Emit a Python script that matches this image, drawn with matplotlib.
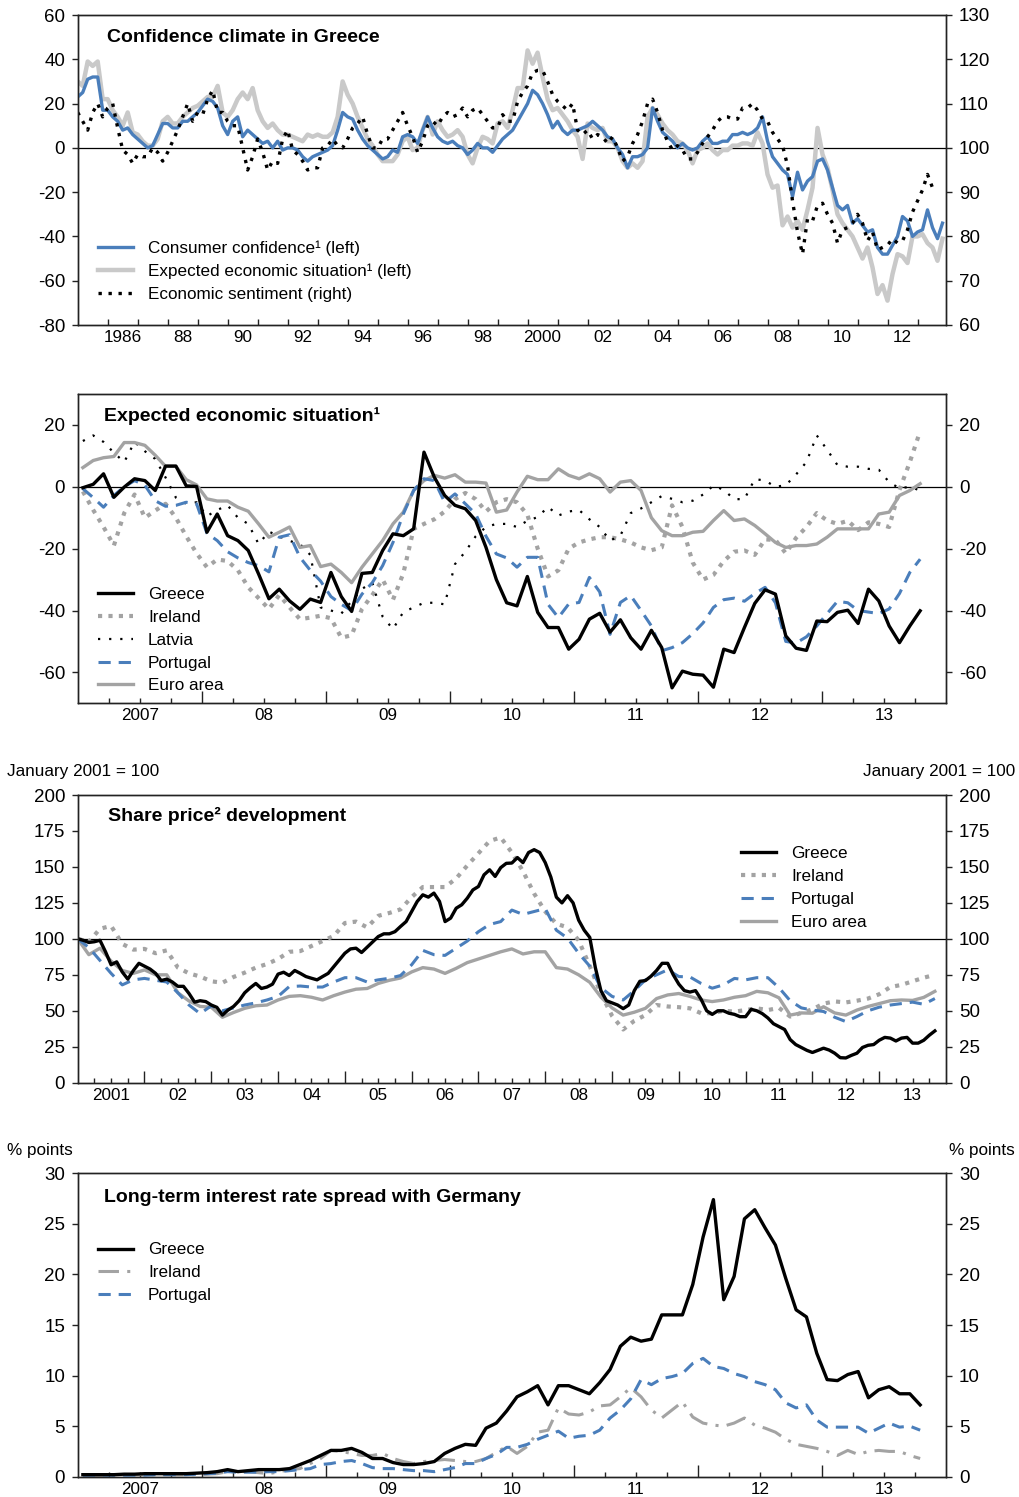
import numpy as np
import matplotlib
matplotlib.use("Agg")
import matplotlib.pyplot as plt
import matplotlib.transforms as mtransforms

plt.rcParams['font.family'] = ['Liberation Sans', 'DejaVu Sans']
plt.rcParams['axes.unicode_minus'] = False

# ---------------- Panel 1 : Confidence climate in Greece (bi-monthly from Jan 1985)
p1_consumer_conf = [
    23, 25, 31, 32, 32, 17,
    17, 14, 12, 8, 9, 6,
    4, 2, 0, 1, 6, 11,
    11, 9, 9, 12, 12, 14,
    16, 19, 22, 21, 18, 10,
    6, 12, 14, 5, 8, 6,
    4, 2, 3, 0, 3, -1,
    0, 0, -1, -4, -6, -4,
    -3, -2, -1, 1, 8, 16,
    14, 13, 8, 4, 1, -1,
    -3, -5, -4, -1, -2, 5,
    6, 5, 2, 8, 14, 9,
    5, 3, 2, 3, 1, 0,
    -3, -1, 2, 0, 0, -2,
    1, 4, 6, 8, 12, 16,
    20, 26, 24, 20, 15, 9,
    12, 8, 6, 8, 8, 9,
    10, 12, 10, 8, 5, 4,
    0, -3, -9, -4, -4, -3,
    0, 18, 12, 7, 5, 3,
    0, 2, 0, -1, 0, 3,
    5, 2, 2, 3, 3, 6,
    6, 7, 6, 7, 9, 14,
    3, -4, -7, -10, -12, -22,
    -11, -19, -15, -13, -6, -5,
    -10, -18, -26, -28, -26, -34,
    -32, -35, -38, -37, -45, -48,
    -48, -44, -40, -31, -33, -40,
    -38, -37, -28, -36, -41, -34]
p1_expected = [
    30, 28, 39, 37, 39, 22,
    22, 17, 14, 10, 16, 7,
    6, 3, 1, 1, 4, 12,
    14, 11, 11, 14, 16, 18,
    19, 21, 23, 23, 28, 16,
    14, 17, 22, 25, 22, 27,
    17, 12, 9, 11, 8, 6,
    6, 5, 4, 3, 6, 5,
    6, 5, 5, 7, 14, 30,
    24, 20, 14, 9, 4, 1,
    -3, -6, -6, -6, -3, 3,
    5, -1, 0, 8, 14, 6,
    12, 8, 5, 6, 8, 5,
    -3, -7, 0, 5, 4, 2,
    11, 12, 9, 17, 27, 27,
    44, 38, 43, 32, 22, 17,
    18, 15, 12, 8, 5, -5,
    11, 9, 8, 9, 3, 3,
    0, -6, -9, -7, -9, -6,
    14, 18, 15, 11, 8, 6,
    3, 2, -1, -7, -1, 0,
    2, -1, -3, -1, -1, 1,
    1, 2, 2, 1, 7, 2,
    -12, -18, -17, -35, -31, -36,
    -33, -37, -28, -18, 9, -3,
    -9, -19, -30, -34, -37, -40,
    -45, -50, -45, -54, -66, -62,
    -69, -57, -48, -49, -52, -40,
    -40, -39, -43, -45, -51, -41]
p1_sentiment = [
    108, 106, 104, 108, 110, 107,
    109, 110, 104.5, 99.5, 98.5, 96.5,
    98.5, 98, 98, 100, 99, 97,
    99, 101.5, 104, 107, 110, 106,
    108, 107.5, 111, 113, 108, 108,
    106, 105, 105, 100, 95, 98,
    102, 99, 95, 97, 96.5, 102,
    104, 99.5, 98.5, 97, 95, 95.5,
    95.5, 100, 100.5, 102, 100.5, 100,
    102, 104.5, 105.5, 107, 103, 100,
    100, 102, 102, 104, 106, 108,
    105, 102.5, 99, 101.5, 105, 106,
    105, 107, 108, 107, 107.5, 109,
    107, 108.5, 109, 107.5, 106, 104.5,
    104.5, 107.5, 106, 106, 110.5, 112.5,
    114, 117, 117.5, 117.5, 115, 112,
    110.5, 109.5, 108.5, 110, 104, 103,
    104, 102, 103, 102.5, 101, 102.5,
    100, 97, 98, 101, 103, 106,
    110, 111, 108, 104, 101.5, 99.5,
    100.5, 99.5, 97.5, 97.5, 99, 101,
    102.5, 104, 106, 107, 107, 106.5,
    106.5, 109, 109, 110, 108.5, 106.5,
    106, 103.5, 102, 100.5, 96, 88,
    81, 76, 84, 83.5, 87, 87.5,
    85, 83, 78.5, 81.5, 82, 83,
    85, 83, 79, 81, 77, 77.5,
    78, 79.5, 78.5, 79, 81.5, 85.5,
    88, 90.5, 94, 91]

# ---------------- Panel 2 : Expected economic situation (monthly from Jan 2007)
p2_greece = [
    -0.3, 0.8, 4.2, -3.4, -0.1, 2.6, 2.0, -1.2, 6.7, 6.7, 0.3, 0.1,
    -14.7, -8.8, -15.8, -17.4, -20.6, -28.2, -36.2, -33.1, -36.9, -39.6, -36.3, -37.4,
    -27.7, -35.5, -40.3, -28.0, -27.7, -20.6, -15.2, -15.8, -13.6, 11.2, 3.1, -2.8,
    -6.0, -7.1, -10.9, -19.6, -30.0, -37.5, -38.5, -29.0, -40.6, -45.5, -45.5, -52.5,
    -49.3, -42.8, -40.9, -47.0, -43.0, -48.8, -52.5, -46.4, -52.0, -65.0, -59.6, -60.6,
    -60.9, -64.8, -52.5, -53.6, -45.5, -37.7, -33.3, -34.7, -48.2, -52.2, -52.9, -43.4,
    -43.6, -40.6, -39.9, -44.2, -33.1, -36.9, -45.0, -50.4, -45.0, -40.1]
p2_ireland = [
    -1.5, -7.5, -13, -19, -8.5, -2.5, -10, -7.7, -5.5, -10, -16, -21.5,
    -26, -23.5, -24, -27, -32.5, -36, -39.5, -35, -39, -42.8, -42.3, -41.7,
    -42.5, -48.8, -48, -39.5, -35, -30, -36.5, -28, -13.6, -12, -10.5, -8,
    -4, -2, -4, -8, -5, -4, -5, -9, -20, -29, -27, -20,
    -18, -17, -16.3, -16.3, -17, -18, -19.6, -20.5, -19.6, -6, -13, -24.5,
    -30, -28.5, -24, -21, -20.6, -22, -17, -17.2, -21.5, -16.5, -13, -8.5,
    -10.9, -12, -11, -14, -11.5, -12, -13, -1, 8, 18]
p2_latvia = [
    14.8, 16.6, 14.5, 11, 8, 14.5, 11.5, 9, 3, -3.5, -5.5, -5,
    -9.5, -7.5, -6, -10, -12, -18.5, -14.5, -16, -17.5, -18.5, -22, -39,
    -40, -41, -37, -33, -31, -42, -46, -40.5, -39, -37.5, -37.5, -38,
    -25, -21, -16, -13, -12, -12, -13, -11, -9.8, -6.5, -9.3, -8,
    -7.5, -10.5, -13, -17.4, -15.8, -8.5, -7, -5, -3, -3.9, -5, -4.5,
    -2.5, 0.4, -1, -4, -4, 2.5, 2, 0, 0.5, 4, 8, 16.6,
    12, 7, 6.5, 6.5, 5.8, 5.5, 1.5, -0.5, 0, -1.2]
p2_portugal = [
    -0.6, -3.5, -6.6, -2.8, 0, 2, 0.5, -4.5, -6.3, -6, -5, -5.5,
    -15, -17.4, -21, -23, -24.5, -25.5, -27.5, -16.3, -15.5, -22.8, -27, -30.5,
    -35.5, -38, -40, -34.7, -31, -25.5, -18, -8.8, -1.2, 2.6, 2, -5,
    -2.3, -5.5, -8.8, -16, -21.7, -23, -26, -22.8, -22.8, -38, -42.3, -37.9,
    -37.4, -29.3, -34, -47.7, -37.4, -35.2, -40, -45, -53, -52, -50.4, -47.5,
    -44, -39, -36.5, -36, -37, -34.5, -32.5, -37.5, -50, -50.5, -48.5, -45,
    -41, -37, -37.5, -40, -40.5, -41, -39.5, -34.5, -27.7, -23.4]
p2_euro = [
    6.2, 8.5, 9.4, 9.8, 14.3, 14.3, 13.4, 10.2, 6.6, 6.6, 2.3, 0.6,
    -3.9, -4.6, -4.6, -6.6, -7.9, -12, -16.3, -14.7, -13, -19.6, -19, -25.8,
    -25, -27.7, -31, -26, -21.7, -17.4, -12, -8.2, -1.2, 2, 3.7, 2.8,
    3.9, 1.5, 1.5, 1.2, -8.2, -7.5, -1.7, 3.4, 2.3, 2.3, 5.8, 3.7,
    2.6, 4.2, 2.6, -1.7, 1.5, 2, -1.2, -10, -14.2, -15.8, -15.8, -14.7,
    -14.4, -10.9, -7.7, -10.9, -10.4, -12.5, -15.2, -18, -19.6, -19, -19, -18.5,
    -16.3, -13.6, -13.6, -13.6, -13.6, -8.8, -8.2, -2.8, -1.2, 1]

# ---------------- Panel 3 : Share prices, January 2001 = 100
p3_greece = [  # monthly from Jan 2001
    100, 99, 97.5, 98, 99, 91, 82, 84, 77, 72, 78, 83,
    81, 79, 76, 71, 72, 70, 67, 67, 62, 56, 57, 56.4,
    54, 52.4, 47, 50.5, 53, 57, 62.5, 66, 69, 65.5, 66.5, 68.5,
    75.5, 76.8, 74.5, 78, 76, 73.8, 72.6, 71.5, 73.8, 76, 80.7, 85.4,
    90, 93, 93.5, 90.5, 94.2, 98, 101.6, 103.5, 103.5, 105, 108.6, 112,
    119, 126, 130.6, 129, 131.8, 126, 112, 114.4, 121.3, 123.7, 128.3, 134,
    136.4, 144.5, 148, 143.4, 149.5, 152.5, 152.7, 156.5, 153, 160, 162, 160,
    153, 143, 129, 125, 130, 125, 113, 106, 101, 80, 64, 57,
    55.5, 54, 51.5, 54, 64, 70.5, 71, 74, 78, 83, 83, 75,
    68.5, 64, 63, 64, 58, 50, 47.5, 50, 50, 48.3, 47.5, 45.9,
    45.9, 51, 50, 48, 45, 41, 39, 37, 30, 26.5, 24.5, 22.5,
    21, 22.5, 24, 22.7, 20.5, 17.4, 17.2, 19, 20.5, 24.5, 26, 26.5,
    29.5, 31.5, 31, 29, 31, 31.5, 27.5, 27.5, 29.5, 33, 36]
p3_ireland = [  # bi-monthly from Jan 2001
    100, 98, 107, 109, 96.5, 92.5, 93, 90, 92, 80,
    76, 73.8, 70.5, 69.5, 73.5, 76.5, 80, 82.5, 86, 91,
    91.5, 95, 98.5, 102, 111, 112, 108, 116, 118, 120.5,
    129, 136, 136, 136, 142, 151, 159.5, 168, 170.5, 160,
    147, 131.5, 119, 110.5, 108, 99, 81, 62, 46.5, 37,
    43, 47, 54, 53, 52.5, 51.7, 48.3, 48.3, 50, 49.4,
    50.5, 51.7, 50.5, 52, 46, 48.5, 51, 55, 56.5, 55.8,
    57, 58.5, 61.5, 66.5, 68, 70.5, 73, 75]
p3_portugal = [
    100, 94, 85, 76, 68, 71.5, 72.5, 71.2, 70, 62.5,
    54, 48, 53.5, 50, 52, 54, 55.5, 57.5, 60, 66.8,
    67.2, 66.5, 66.5, 70, 73, 73, 70, 71.5, 72.6, 74.5,
    82, 92, 89, 88.5, 93.5, 98.5, 105, 110, 112, 120,
    117, 119, 121, 106, 100.5, 90, 81, 66, 60, 57.5,
    64, 71.5, 75, 78.5, 73.8, 73.5, 69, 65.7, 68, 72.5,
    71.5, 73, 73, 66, 57, 52, 50.5, 49.5, 45.5, 42.5,
    46, 50, 52.5, 54, 55, 56, 54.5, 58.5]
p3_euro = [
    100, 89, 93.5, 84.5, 78, 76, 78.4, 75, 75, 62.5,
    56.8, 53, 52.5, 45.5, 48.8, 51.7, 53.5, 54, 57.5, 60,
    60.5, 59.4, 57.5, 60.5, 63, 65, 65.5, 69, 71.2, 72.8,
    77, 80, 79, 76, 79.5, 83.5, 86, 88.5, 91, 93,
    89.5, 91, 91, 80, 79, 75, 69.8, 59.5, 52, 47,
    49, 51.7, 58.5, 61, 62, 60, 57.5, 56.4, 57.5, 59.4,
    60.5, 63.5, 62.5, 59, 47, 48.5, 48.3, 52.8, 48.5, 47,
    50.5, 53, 55, 57, 57.5, 57.2, 59.3, 63.5]

# ---------------- Panel 4 : Long-term interest rate spread with Germany (monthly from Jan 2007)
p4_greece = [
    0.2, 0.2, 0.2, 0.2, 0.25, 0.25, 0.3, 0.3, 0.3, 0.3, 0.3, 0.35,
    0.4, 0.5, 0.7, 0.5, 0.6, 0.7, 0.7, 0.7, 0.8, 1.2, 1.6, 2.1,
    2.6, 2.6, 2.8, 2.4, 1.8, 1.8, 1.4, 1.2, 1.2, 1.3, 1.5, 2.3,
    2.8, 3.2, 3.1, 4.8, 5.3, 6.5, 7.9, 8.4, 9.0, 7.1, 9.0, 9.0,
    8.6, 8.2, 9.3, 10.6, 12.9, 13.8, 13.4, 13.6, 16.0, 16.0, 16.0, 19.0,
    23.7, 27.4, 17.5, 19.8, 25.5, 26.4, 24.6, 22.9, 19.6, 16.5, 15.8, 12.2,
    9.6, 9.5, 10.1, 10.4, 7.8, 8.6, 8.9, 8.2, 8.2, 7.1]
p4_ireland = [
    0.15, 0.15, 0.15, 0.15, 0.2, 0.2, 0.2, 0.2, 0.2, 0.2, 0.2, 0.2,
    0.25, 0.3, 0.5, 0.5, 0.5, 0.4, 0.3, 0.5, 0.7, 0.8, 1.3, 1.8,
    2.6, 2.5, 2.3, 2.1, 2.1, 2.3, 1.8, 1.5, 1.3, 1.5, 1.6, 1.7,
    1.6, 1.5, 1.5, 1.8, 2.4, 3.0, 2.3, 3.0, 4.4, 4.6, 6.8, 6.2,
    6.1, 6.4, 7.0, 7.1, 7.9, 8.8, 7.9, 6.6, 5.8, 6.6, 7.4, 5.9,
    5.3, 5.1, 5.0, 5.3, 5.8, 5.1, 4.8, 4.4, 3.7, 3.2, 3.0, 2.8,
    2.5, 2.1, 2.6, 2.2, 2.5, 2.6, 2.5, 2.5, 2.1, 1.8]
p4_portugal = [
    0.15, 0.15, 0.15, 0.15, 0.15, 0.15, 0.15, 0.2, 0.2, 0.2, 0.2, 0.25,
    0.3, 0.35, 0.5, 0.45, 0.45, 0.45, 0.5, 0.5, 0.6, 0.7, 0.8, 1.2,
    1.3, 1.5, 1.6, 1.3, 0.9, 0.8, 0.8, 0.7, 0.6, 0.6, 0.5, 0.7,
    0.9, 1.3, 1.3, 1.8, 2.2, 2.9, 2.9, 3.2, 3.7, 4.1, 4.5, 3.8,
    4.0, 4.1, 4.6, 5.8, 6.6, 7.7, 9.6, 9.1, 9.7, 9.9, 10.2, 11.2,
    11.7, 10.9, 10.7, 10.2, 9.9, 9.4, 9.1, 8.6, 7.3, 6.8, 7.1, 5.6,
    4.9, 4.9, 4.9, 4.9, 4.3, 4.8, 5.3, 4.9, 5.0, 4.6]

# ---------------- Labels
p1_labels = ['Consumer confidence\u00b9 (left)', 'Expected economic situation\u00b9 (left)',
             'Economic sentiment (right)']
p2_labels = ['Greece', 'Ireland', 'Latvia', 'Portugal', 'Euro area']
p3_labels = ['Greece', 'Ireland', 'Portugal', 'Euro area']
p4_labels = ['Greece', 'Ireland', 'Portugal']
titles = ['Confidence climate in Greece', 'Expected economic situation\u00b9',
          'Share price\u00b2 development', 'Long-term interest rate spread with Germany']

# ---------------- Styles
BLUE = '#4A7EBB'
LGREY = '#C9C9C9'
GREY = '#A3A3A3'
W, H = 1019, 1497
YFS, XFS, LFS = 13.5, 12.3, 12.3

fig = plt.figure(figsize=(W / 100, H / 100), dpi=100)


def add_ax(l, t, r, b):
    return fig.add_axes([l / W, 1 - b / H, (r - l) / W, (b - t) / H])


def year_label(y, first):
    return str(y) if (y == first or y == 2000) else '%02d' % (y % 100)


def style(ax, axr, xlim, ylim, ylimr, yt, ytr, years, quarters, maj_len, lab_years):
    ax.set_xlim(*xlim)
    ax.set_ylim(*ylim)
    axr.set_ylim(*ylimr)
    ax.set_yticks(yt)
    axr.set_yticks(ytr)
    for a in (ax, axr):
        for s in a.spines.values():
            s.set_linewidth(1.0)
            s.set_color('#222222')
    ax.tick_params(axis='y', direction='out', length=4.3, width=1, labelsize=YFS, pad=4.8,
                   left=True, right=False, colors='#222222', labelcolor='black')
    axr.tick_params(axis='y', direction='out', length=4.3, width=1, labelsize=YFS, pad=5,
                    right=True, left=False, colors='#222222', labelcolor='black')
    ax.set_xticks(years)
    ax.set_xticklabels([])
    ax.set_xticks(quarters, minor=True)
    ax.tick_params(axis='x', which='major', direction='in', length=maj_len, width=1,
                   top=False, colors='#222222')
    ax.tick_params(axis='x', which='minor', direction='in', length=3.3, width=1,
                   top=False, colors='#222222')
    trans = mtransforms.offset_copy(ax.get_xaxis_transform(), fig=fig, y=-3.5, units='points')
    for y in lab_years:
        ax.text(y + 0.5, 0, year_label(y, lab_years[0]), transform=trans,
                ha='center', va='top', fontsize=XFS)


def legend(handles, labels, x, top):
    fig.legend(handles, labels, loc='upper left', bbox_to_anchor=(x / W, 1 - top / H),
               frameon=False, fontsize=LFS, handlelength=2.05, handletextpad=0.88,
               labelspacing=0.46, borderpad=0, borderaxespad=0)


# ================= Panel 1
ax1 = add_ax(77.7, 15, 946, 325)
ax1r = ax1.twinx()
x1 = 1985 + np.arange(len(p1_consumer_conf)) / 6
xs = 1985 + np.arange(len(p1_sentiment)) / 6
ax1.axhline(0, color='black', lw=0.9, zorder=1)
l_exp, = ax1.plot(x1, p1_expected, color=LGREY, lw=3.2, zorder=2)
l_cc, = ax1.plot(x1, p1_consumer_conf, color=BLUE, lw=2.4, zorder=3)
l_es, = ax1r.plot(xs, p1_sentiment, color='black', lw=2.4, linestyle=(0, (1, 2)))
style(ax1, ax1r, (1985, 2013.95), (-80, 60), (60, 130), range(-80, 61, 20),
      range(60, 131, 10), range(1986, 2014), [], 4.3, list(range(1986, 2013, 2)))
fig.text(106.7 / W, 1 - 41.7 / H, titles[0], fontsize=14, fontweight='bold', va='baseline')
legend([l_cc, l_exp, l_es], p1_labels, 98, 240.5)

# ================= Panel 2
ax2 = add_ax(77.7, 394, 946, 703.3)
ax2r = ax2.twinx()
x2 = 2007 + (np.arange(len(p2_greece)) + 0.5) / 12
ax2.axhline(0, color='black', lw=0.9, zorder=1)
l_ie, = ax2.plot(x2, p2_ireland, color=GREY, lw=3.0, linestyle=(0, (1, 1.5)), zorder=2)
l_lv, = ax2.plot(x2, p2_latvia, color='black', lw=1.6, linestyle=(0, (1, 4)), zorder=2)
l_ea, = ax2.plot(x2, p2_euro, color=GREY, lw=2.4, zorder=3)
l_pt, = ax2.plot(x2, p2_portugal, color=BLUE, lw=2.2, linestyle=(0, (4, 2.6)), zorder=4)
l_gr, = ax2.plot(x2, p2_greece, color='black', lw=2.4, zorder=5)
qs = [y + q / 4 for y in range(2007, 2014) for q in (1, 2, 3)]
style(ax2, ax2r, (2007, 2014), (-70, 30), (-70, 30), range(-60, 21, 20), range(-60, 21, 20),
      range(2008, 2014), qs, 8.3, list(range(2007, 2014)))
fig.text(104 / W, 1 - 420.7 / H, titles[1], fontsize=14, fontweight='bold', va='baseline')
legend([l_gr, l_ie, l_lv, l_pt, l_ea], p2_labels, 98, 587)

# ================= Panel 3
ax3 = add_ax(77.7, 795, 946, 1082.7)
ax3r = ax3.twinx()
x3g = 2001 + np.arange(len(p3_greece)) / 12
x3b = 2001 + 2 * np.arange(len(p3_euro)) / 12
ax3.axhline(100, color='black', lw=0.9, zorder=1)
m_ie, = ax3.plot(x3b, p3_ireland, color=GREY, lw=3.0, linestyle=(0, (1, 1.5)), zorder=2)
m_ea, = ax3.plot(x3b, p3_euro, color=GREY, lw=2.4, zorder=3)
m_pt, = ax3.plot(x3b, p3_portugal, color=BLUE, lw=2.2, linestyle=(0, (4, 2.6)), zorder=4)
m_gr, = ax3.plot(x3g, p3_greece, color='black', lw=2.4, zorder=5)
qs3 = [y + q / 4 for y in range(2001, 2014) for q in (1, 2, 3)]
style(ax3, ax3r, (2001, 2014), (0, 200), (0, 200), range(0, 201, 25), range(0, 201, 25),
      range(2002, 2014), qs3, 8.3, list(range(2001, 2014)))
fig.text(108.3 / W, 1 - 821 / H, titles[2], fontsize=14, fontweight='bold', va='baseline')
legend([m_gr, m_ie, m_pt, m_ea], p3_labels, 741, 846)
fig.text(7.3 / W, 1 - 776 / H, 'January 2001 = 100', fontsize=LFS, va='baseline', ha='left')
fig.text(1015 / W, 1 - 776 / H, 'January 2001 = 100', fontsize=LFS, va='baseline', ha='right')

# ================= Panel 4
ax4 = add_ax(77.7, 1173.3, 946, 1476.7)
ax4r = ax4.twinx()
x4 = 2007 + (np.arange(len(p4_greece)) + 0.5) / 12
n_ie, = ax4.plot(x4, p4_ireland, color=GREY, lw=2.2, linestyle=(0, (6.7, 2.7, 1, 2.7)), zorder=2)
n_pt, = ax4.plot(x4, p4_portugal, color=BLUE, lw=2.2, linestyle=(0, (4, 2.6)), zorder=3)
n_gr, = ax4.plot(x4, p4_greece, color='black', lw=2.4, zorder=4)
style(ax4, ax4r, (2007, 2014), (0, 30), (0, 30), range(0, 31, 5), range(0, 31, 5),
      range(2008, 2014), qs, 8.3, list(range(2007, 2014)))
fig.text(104 / W, 1 - 1201.7 / H, titles[3], fontsize=14, fontweight='bold', va='baseline')
legend([n_gr, n_ie, n_pt], p4_labels, 98, 1242.5)
fig.text(7.3 / W, 1 - 1155 / H, '% points', fontsize=LFS, va='baseline', ha='left')
fig.text(1015 / W, 1 - 1155 / H, '% points', fontsize=LFS, va='baseline', ha='right')

fig.savefig('out.png', dpi=100)
